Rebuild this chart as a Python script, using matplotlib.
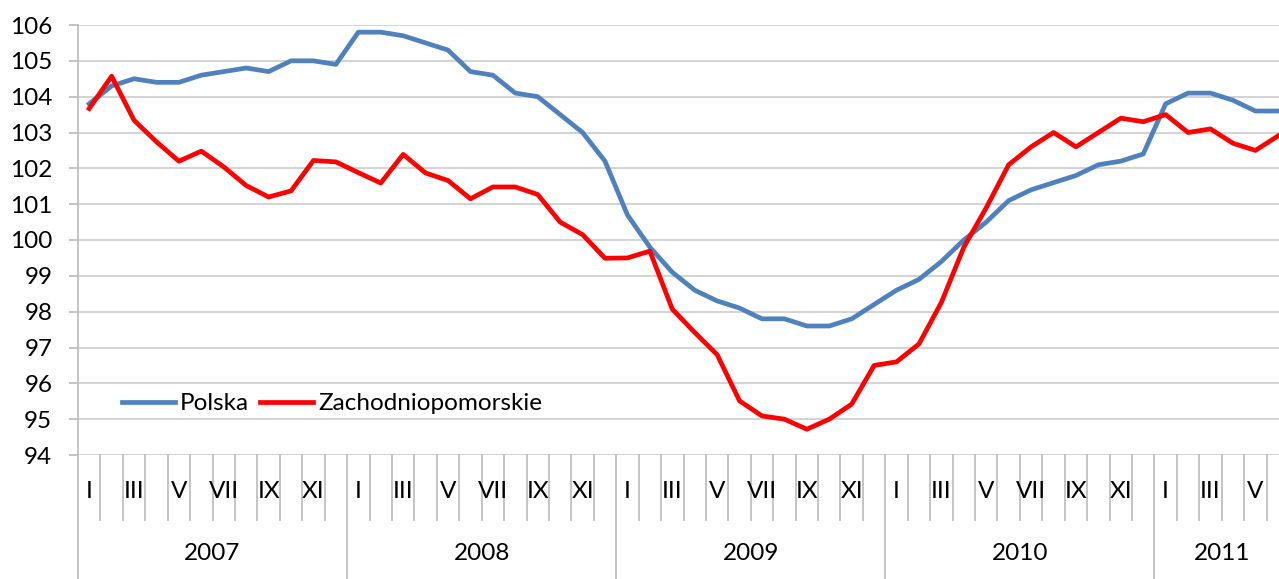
import matplotlib
matplotlib.use("Agg")
import matplotlib.pyplot as plt
from matplotlib.transforms import blended_transform_factory
import numpy as np

plt.rcParams['font.family'] = ['Lato', 'DejaVu Sans']

# dane: miesiące I.2007 - VI.2011
years = ['2007', '2008', '2009', '2010', '2011']
months_in_year = [12, 12, 12, 12, 6]
roman = ['I', 'II', 'III', 'IV', 'V', 'VI', 'VII', 'VIII', 'IX', 'X', 'XI', 'XII']

polska = [103.8, 104.3, 104.5, 104.4, 104.4, 104.6, 104.7, 104.8, 104.7, 105.0, 105.0, 104.9,
          105.8, 105.8, 105.7, 105.5, 105.3, 104.7, 104.6, 104.1, 104.0, 103.5, 103.0, 102.2,
          100.7, 99.8, 99.1, 98.6, 98.3, 98.1, 97.8, 97.8, 97.6, 97.6, 97.8, 98.2,
          98.6, 98.9, 99.4, 100.0, 100.5, 101.1, 101.4, 101.6, 101.8, 102.1, 102.2, 102.4,
          103.8, 104.1, 104.1, 103.9, 103.6, 103.6]
zachodniopomorskie = [103.67, 104.57, 103.34, 102.74, 102.2, 102.48, 102.04, 101.52, 101.2, 101.37, 102.22, 102.18,
                      101.88, 101.59, 102.39, 101.87, 101.66, 101.15, 101.48, 101.48, 101.27, 100.5, 100.15, 99.49,
                      99.5, 99.69, 98.07, 97.42, 96.8, 95.51, 95.09, 95.0, 94.72, 95.0, 95.42, 96.5,
                      96.6, 97.1, 98.26, 99.8, 100.9, 102.1, 102.6, 103.0, 102.6, 103.0, 103.4, 103.3,
                      103.5, 103.0, 103.1, 102.7, 102.5, 102.9]

W, H = 1279, 579
fig = plt.figure(figsize=(W / 100, H / 100), dpi=100)
left, right, top, bottom = 78, 1289, 25, 455
ax = fig.add_axes([left / W, 1 - bottom / H, (right - left) / W, (bottom - top) / H])

fs = 17.5
n = len(polska)
x = np.arange(n) + 0.5
ax.plot(x, polska, color='#4F81BD', lw=3.4, label='Polska')
ax.plot(x, zachodniopomorskie, color='#FF0000', lw=3.4, label='Zachodniopomorskie')

ax.set_xlim(0, sum(months_in_year))
ax.set_ylim(94, 106)
ax.set_yticks(range(94, 107))
ax.yaxis.grid(True, color='#D0D0D0', lw=1.3)
ax.set_axisbelow(True)
for s in ['top', 'right', 'bottom']:
    ax.spines[s].set_visible(False)
ax.spines['left'].set_color('#BFBFBF')
ax.spines['left'].set_linewidth(1.3)
ax.tick_params(axis='y', length=6.5, color='#BFBFBF', width=1.3, labelsize=fs, pad=12)
ax.set_xticks([])

# oś kategorii: miesiące i lata
tr = blended_transform_factory(ax.transData, ax.transAxes)
grey = '#BFBFBF'
start = 0
for yr, m in zip(years, months_in_year):
    ax.plot([start, start], [0, -0.29], color=grey, lw=1.3, transform=tr, clip_on=False)
    for k in range(m):
        if k > 0:
            ax.plot([start + k, start + k], [0, -0.151], color=grey, lw=1.3, transform=tr, clip_on=False)
        if k % 2 == 0:
            ax.text(start + k + 0.5, -0.086, roman[k], transform=tr, ha='center', va='center', fontsize=fs)
    ax.text(start + m / 2, -0.228, yr, transform=tr, ha='center', va='center', fontsize=fs)
    start += m
ax.plot([start, start], [0, -0.29], color=grey, lw=1.3, transform=tr, clip_on=False)

ax.legend(loc='center left', bbox_to_anchor=(0.036, 0.119), ncol=2, frameon=False,
          fontsize=fs, handlelength=2.2, handletextpad=0.2, columnspacing=0.45,
          borderpad=0, borderaxespad=0)

fig.savefig('out.png', dpi=100)
